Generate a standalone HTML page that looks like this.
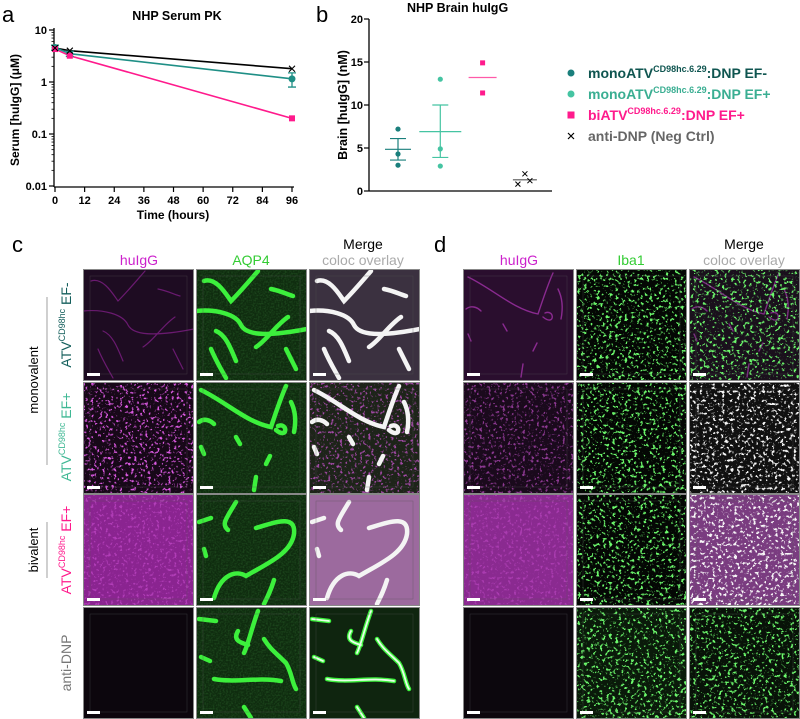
<!DOCTYPE html>
<html><head><meta charset="utf-8">
<style>
html,body{margin:0;padding:0;background:#fff;}
svg{display:block;font-family:"Liberation Sans",Arial,sans-serif;}
.b{font-weight:bold;}
</style></head>
<body>
<svg id="fig" width="800" height="719" viewBox="0 0 800 719" xmlns="http://www.w3.org/2000/svg">
<defs>
 <filter id="speckM" x="0" y="0" width="100%" height="100%">
  <feTurbulence type="fractalNoise" baseFrequency="0.35" numOctaves="2" seed="4"/>
  <feColorMatrix type="matrix" values="0 0 0 0 0.7  0 0 0 0 0.1  0 0 0 0 0.75  7 0 0 0 -4.0"/>
 </filter>
 <filter id="speckG" x="0" y="0" width="100%" height="100%">
  <feTurbulence type="fractalNoise" baseFrequency="0.32" numOctaves="3" seed="7"/>
  <feColorMatrix type="matrix" values="0 0 0 0 0.15  0 0 0 0 0.95  0 0 0 0 0.15  9 0 0 0 -5.2"/>
 </filter>
 <filter id="speckW" x="0" y="0" width="100%" height="100%">
  <feTurbulence type="fractalNoise" baseFrequency="0.32" numOctaves="3" seed="11"/>
  <feColorMatrix type="matrix" values="0 0 0 0 0.95  0 0 0 0 0.95  0 0 0 0 0.95  9 0 0 0 -5.2"/>
 </filter>
 <filter id="fineG" x="0" y="0" width="100%" height="100%">
  <feTurbulence type="fractalNoise" baseFrequency="0.6" numOctaves="1" seed="2"/>
  <feColorMatrix type="matrix" values="0 0 0 0 0.1  0 0 0 0 0.5  0 0 0 0 0.1  2 0 0 0 -0.8"/>
 </filter>
</defs>

<text x="2" y="22" font-size="22">a</text>
<text x="316" y="22" font-size="22">b</text>
<text x="12" y="252" font-size="22">c</text>
<text x="434" y="252" font-size="22">d</text>

<g id="panelA">
 <text x="177" y="20" font-size="12.5" class="b" text-anchor="middle">NHP Serum PK</text>
 <text transform="translate(19,110) rotate(-90)" font-size="12" class="b" text-anchor="middle">Serum [huIgG] (μM)</text>
 <text x="173" y="219" font-size="12" class="b" text-anchor="middle">Time (hours)</text>
 <g id="aAxes"></g><g id="aMarks"></g>
</g>

<g id="panelB">
 <text x="407" y="12" font-size="12.5" class="b">NHP Brain huIgG</text>
 <text transform="translate(347,105) rotate(-90)" font-size="12.5" class="b" text-anchor="middle">Brain [huIgG] (nM)</text>
 <g id="bAxes"></g><g id="bMarks"></g>
</g>

<g font-size="14" class="b">
 <g>
  <circle cx="571" cy="73" r="3.5" fill="#1a7f7c"/>
  <text x="588" y="78" fill="#0f5550">monoATV<tspan font-size="9" dy="-6">CD98hc.6.29</tspan><tspan dy="6">:DNP EF-</tspan></text>
 </g>
 <g>
  <circle cx="571" cy="94" r="3.5" fill="#45c4a2"/>
  <text x="588" y="99" fill="#3aae92">monoATV<tspan font-size="9" dy="-6">CD98hc.6.29</tspan><tspan dy="6">:DNP EF+</tspan></text>
 </g>
 <g>
  <rect x="567.5" y="111.5" width="7" height="7" fill="#ff1a8c"/>
  <text x="588" y="120" fill="#ff1a8c">biATV<tspan font-size="9" dy="-6">CD98hc.6.29</tspan><tspan dy="6">:DNP EF+</tspan></text>
 </g>
 <g>
  <path d="M568,133 l6,6 M574,133 l-6,6" stroke="#000" stroke-width="1.2"/>
  <text x="588" y="141" fill="#666">anti-DNP (Neg Ctrl)</text>
 </g>
</g>

<g font-size="14" text-anchor="middle">
 <text x="139" y="265" fill="#cc22cc">huIgG</text>
 <text x="251" y="265" fill="#33cc33">AQP4</text>
 <text x="363" y="249" fill="#000">Merge</text>
 <text x="363" y="265" fill="#aaa">coloc overlay</text>
 <text x="519" y="265" fill="#cc22cc">huIgG</text>
 <text x="631" y="265" fill="#33cc33">Iba1</text>
 <text x="744" y="249" fill="#000">Merge</text>
 <text x="744" y="265" fill="#aaa">coloc overlay</text>
</g>

<g font-size="14" text-anchor="middle">
 <text transform="translate(71,325) rotate(-90)" fill="#145f5c">ATV<tspan font-size="9" dy="-6">CD98hc</tspan><tspan dy="6"> EF-</tspan></text>
 <text transform="translate(71,437) rotate(-90)" fill="#3fb894">ATV<tspan font-size="9" dy="-6">CD98hc</tspan><tspan dy="6"> EF+</tspan></text>
 <text transform="translate(71,550) rotate(-90)" fill="#ff1a8c">ATV<tspan font-size="9" dy="-6">CD98hc</tspan><tspan dy="6"> EF+</tspan></text>
 <text transform="translate(71,663) rotate(-90)" fill="#777">anti-DNP</text>
 <text transform="translate(38,380) rotate(-90)" font-size="13" fill="#000">monovalent</text>
 <line x1="47" y1="297" x2="47" y2="465" stroke="#888" stroke-width="0.8"/>
 <text transform="translate(38,550) rotate(-90)" font-size="13" fill="#000">bivalent</text>
 <line x1="47" y1="522" x2="47" y2="578" stroke="#888" stroke-width="0.8"/>
</g>

<g id="tiles"></g>
</svg>

<script>
// ---------- Panel a data ----------
const aTimes = [0, 6, 96];
const aMonoMinus = [4.6, 3.5, 1.15];
const aMonoMinusErr = [0.5, 0.4, 0.35];
const aBiPlus = [4.3, 3.2, 0.2];
const aAntiDNP = [4.5, 4.0, 1.8];
const aXTicks = [0, 12, 24, 36, 48, 60, 72, 84, 96];
const aYTicks = [0.01, 0.1, 1, 10];
const aYTickLabels = ["0.01", "0.1", "1", "10"];

// ---------- Panel b data ----------
const bGroups = ["monoEFminus", "monoEFplus", "biEFplus", "antiDNP"];
const bPoints = [[7.2, 4.3, 3.0], [13.0, 4.9, 2.9], [14.9, 11.4], [2.0, 0.8, 1.2]];
const bMeans = [4.85, 6.9, 13.2, 1.3];
const bSemLow = [3.6, 3.9, null, null];
const bSemHigh = [6.1, 10.0, null, null];
const bYTicks = [0, 5, 10, 15, 20];

const NS = "http://www.w3.org/2000/svg";
function mk(parent, tag, attrs) {
  const e = document.createElementNS(NS, tag);
  for (const k in attrs) e.setAttribute(k, attrs[k]);
  parent.appendChild(e);
  return e;
}

const ax = t => 55 + t * (292 - 55) / 96;
const ay = v => 82 - 52 * Math.log10(v);
const aAxes = document.getElementById("aAxes");
const aMarks = document.getElementById("aMarks");
let l = mk(aAxes, "line", {x1: 54, y1: 28, x2: 54, y2: 187, stroke: "#000", "stroke-width": 1.3});


l = mk(aAxes, "line", {x1: 54, y1: 187, x2: 294, y2: 187, stroke: "#000", "stroke-width": 1.3});


aYTicks.forEach((v, i) => {
  mk(aAxes, "line", {x1: 49, y1: ay(v), x2: 54, y2: ay(v), stroke: "#000", "stroke-width": 1.2});
  const t = mk(aAxes, "text", {x: 47, y: ay(v) + 4, "font-size": 11, "font-weight": "bold", "text-anchor": "end"});
  t.textContent = aYTickLabels[i];
  
  
  if (i < aYTicks.length - 1) {
    for (let m = 2; m < 10; m++) {
      const yy = ay(v * m);
      mk(aAxes, "line", {x1: 51.5, y1: yy, x2: 54, y2: yy, stroke: "#000", "stroke-width": 0.8});
    }
  }
});
aXTicks.forEach(t => {
  mk(aAxes, "line", {x1: ax(t), y1: 187, x2: ax(t), y2: 192, stroke: "#000", "stroke-width": 1.2});
  const tx = mk(aAxes, "text", {x: ax(t), y: 204, "font-size": 11, "font-weight": "bold", "text-anchor": "middle"});
  tx.textContent = t;
  
  
});
function line(series, color, name) {
  const p = mk(aMarks, "polyline", {points: aTimes.map((t, i) => ax(t) + "," + ay(series[i])).join(" "), fill: "none", stroke: color, "stroke-width": 1.6});
  
  
}
line(aAntiDNP, "#000", "line-anti-dnp");
line(aBiPlus, "#ff1a8c", "line-bi-ef-plus");
line(aMonoMinus, "#1f8f86", "line-mono-ef-minus");
aTimes.forEach((t, i) => {
  const x = ax(t);
  const e = mk(aMarks, "path", {d: `M${x},${ay(aMonoMinus[i] + aMonoMinusErr[i])} V${ay(aMonoMinus[i] - aMonoMinusErr[i])} M${x - 4},${ay(aMonoMinus[i] + aMonoMinusErr[i])} h8 M${x - 4},${ay(aMonoMinus[i] - aMonoMinusErr[i])} h8`, stroke: "#1f8f86", "stroke-width": 1.3, fill: "none"});
  
  
  const c = mk(aMarks, "circle", {cx: x, cy: ay(aMonoMinus[i]), r: 3.5, fill: "#1f8f86"});
  
  
  const s = mk(aMarks, "rect", {x: x - 3, y: ay(aBiPlus[i]) - 3, width: 6, height: 6, fill: "#ff1a8c"});
  
  
  const xm = mk(aMarks, "path", {d: `M${x - 3},${ay(aAntiDNP[i]) - 3} l6,6 M${x + 3},${ay(aAntiDNP[i]) - 3} l-6,6`, stroke: "#000", "stroke-width": 1.1});
  
  
});

const by = v => 191 - v * 8.6;
const bx = i => 398 + i * 42.3;
const bHalf = [13, 21, 14, 12];
const bColors = ["#1a7f7c", "#45c4a2", "#ff1a8c", "#000"];
const bLineColors = ["#1a7f7c", "#45c4a2", "#ff5aa8", "#555"];
const bAxes = document.getElementById("bAxes");
const bMarks = document.getElementById("bMarks");
l = mk(bAxes, "line", {x1: 369, y1: 19, x2: 369, y2: 191, stroke: "#000", "stroke-width": 1.3});


l = mk(bAxes, "line", {x1: 369, y1: 191, x2: 552, y2: 191, stroke: "#000", "stroke-width": 1.3});


bYTicks.forEach(v => {
  mk(bAxes, "line", {x1: 364, y1: by(v), x2: 369, y2: by(v), stroke: "#000", "stroke-width": 1.2});
  const t = mk(bAxes, "text", {x: 363, y: by(v) + 4, "font-size": 11, "font-weight": "bold", "text-anchor": "end"});
  t.textContent = v;
  
  
});
bGroups.forEach((g, i) => {
  const x = bx(i), col = bColors[i], lc = bLineColors[i];
  const m = mk(bMarks, "line", {x1: x - bHalf[i], y1: by(bMeans[i]), x2: x + bHalf[i], y2: by(bMeans[i]), stroke: lc, "stroke-width": 1.2});
  
  
  if (bSemLow[i] !== null) {
    const e = mk(bMarks, "path", {d: `M${x},${by(bSemHigh[i])} V${by(bSemLow[i])} M${x - 8},${by(bSemHigh[i])} h16 M${x - 8},${by(bSemLow[i])} h16`, stroke: lc, "stroke-width": 1.2, fill: "none"});
    
    
  }
  bPoints[i].forEach((v, j) => {
    let p;
    if (i === 3) {
      const dx = [0, -7, 5][j];
      p = mk(bMarks, "path", {d: `M${x + dx - 2.5},${by(v) - 2.5} l5,5 M${x + dx + 2.5},${by(v) - 2.5} l-5,5`, stroke: "#000", "stroke-width": 1});
    } else if (i === 2) {
      p = mk(bMarks, "rect", {x: x - 2.5, y: by(v) - 2.5, width: 5, height: 5, fill: col});
    } else {
      p = mk(bMarks, "circle", {cx: x, cy: by(v), r: 2.6, fill: col});
    }
    
    
  });
});

// ---------- micrograph tiles ----------
const tiles = document.getElementById("tiles");
const cCols = [83, 196, 309];
const dCols = [463, 576, 689];
const rows = [269, 382, 494, 607];
const TW = 111, TH = 112;
const vessels = [
 ["M8,12 C20,8 30,25 35,32 C45,22 55,10 62,2","M0,42 C20,40 40,45 45,56 C50,66 70,68 111,60","M20,62 C30,66 35,80 40,92","M75,20 C85,22 90,25 97,27","M60,78 C70,72 80,56 92,48","M15,80 C20,92 25,100 30,109","M90,80 L100,100"],
 ["M5,8 C30,20 50,40 75,45 C80,30 85,15 90,4","M80,48 C92,58 92,40 82,44","M3,40 C8,36 14,38 18,42","M40,55 L44,62","M5,65 L8,72","M70,82 L74,74","M60,95 L58,108","M95,20 C100,30 100,40 98,50"],
 ["M40,8 C30,25 25,30 32,36","M3,28 L15,24","M60,34 C80,28 100,20 98,40 C95,60 70,70 50,82 C40,76 25,80 18,104","M78,86 C75,96 72,102 68,110","M8,55 L10,62"],
 ["M62,4 C56,20 52,38 48,46","M3,12 L20,14","M68,32 C74,42 80,46 90,56 C96,66 96,76 100,82","M42,24 C36,34 46,36 52,38","M18,72 C40,76 60,70 85,74","M48,100 L55,111","M5,50 L14,54"]
];
const cHuBg = ["#1e0c22", "#170818", "#8a2490", "#0c060d"];
const cMgBg = ["#3b3140", "#1d2419", "#9c6a9e", "#0f250f"];
const dHuBg = ["#2a0e2e", "#1a0a1c", "#8a2a90", "#0c070d"];
const dMgBg = ["#1a101c", "#101010", "#7a3c80", "#081208"];

function tile(x, y, name) {
  const g = mk(tiles, "g", {});
  
  
  const cp = mk(g, "clipPath", {id: "cp" + x + "_" + y});
  mk(cp, "rect", {x: x, y: y, width: TW, height: TH});
  return mk(g, "g", {"clip-path": `url(#cp${x}_${y})`});
}
function frame(x, y) {
  mk(tiles, "rect", {x: x + 0.5, y: y + 0.5, width: TW - 1, height: TH - 1, fill: "none", stroke: "#888", "stroke-width": 1});
  mk(tiles, "rect", {x: x + 7, y: y + 7, width: TW - 14, height: TH - 14, fill: "none", stroke: "#555", "stroke-width": 0.5, opacity: 0.6});
  mk(tiles, "rect", {x: x + 4, y: y + TH - 8, width: 13, height: 3, fill: "#fff"});
}
function vesselPaths(g, x, y, r, color, w) {
  vessels[r].forEach(d => mk(g, "path", {d: d, transform: `translate(${x},${y})`, fill: "none", stroke: color, "stroke-width": w, "stroke-linecap": "round"}));
}
rows.forEach((y, r) => {
  let g = tile(cCols[0], y, "c-huigg-tile-row" + (r + 1));
  mk(g, "rect", {x: cCols[0], y: y, width: TW, height: TH, fill: cHuBg[r]});
  if (r === 1) mk(g, "rect", {x: cCols[0], y: y, width: TW, height: TH, filter: "url(#speckM)"});
  if (r === 0) vesselPaths(g, cCols[0], y, 0, "#6a1a70", 1.2);
  if (r === 2) mk(g, "rect", {x: cCols[0], y: y, width: TW, height: TH, filter: "url(#speckM)", opacity: 0.5});
  frame(cCols[0], y);
  g = tile(cCols[1], y, "c-aqp4-tile-row" + (r + 1));
  mk(g, "rect", {x: cCols[1], y: y, width: TW, height: TH, fill: "#0f2c0f"});
  mk(g, "rect", {x: cCols[1], y: y, width: TW, height: TH, filter: "url(#fineG)", opacity: 0.25});
  vesselPaths(g, cCols[1], y, r, "#3cf03c", 4.5);
  frame(cCols[1], y);
  g = tile(cCols[2], y, "c-merge-tile-row" + (r + 1));
  mk(g, "rect", {x: cCols[2], y: y, width: TW, height: TH, fill: cMgBg[r]});
  if (r === 1) mk(g, "rect", {x: cCols[2], y: y, width: TW, height: TH, filter: "url(#speckM)", opacity: 0.7});
  vesselPaths(g, cCols[2], y, r, r === 3 ? "#3cf03c" : "#f4f4f4", 4.5);
  if (r === 3) vesselPaths(g, cCols[2], y, r, "#e8ffe8", 1.8);
  frame(cCols[2], y);
  g = tile(dCols[0], y, "d-huigg-tile-row" + (r + 1));
  mk(g, "rect", {x: dCols[0], y: y, width: TW, height: TH, fill: dHuBg[r]});
  if (r === 0) vesselPaths(g, dCols[0], y, 1, "#8a2a90", 1.4);
  if (r === 1) mk(g, "rect", {x: dCols[0], y: y, width: TW, height: TH, filter: "url(#speckM)", opacity: 0.6});
  if (r === 2) mk(g, "rect", {x: dCols[0], y: y, width: TW, height: TH, filter: "url(#speckM)", opacity: 0.4});
  frame(dCols[0], y);
  g = tile(dCols[1], y, "d-iba1-tile-row" + (r + 1));
  mk(g, "rect", {x: dCols[1], y: y, width: TW, height: TH, fill: r === 3 ? "#0a1a0a" : "#040704"});
  mk(g, "rect", {x: dCols[1], y: y, width: TW, height: TH, filter: "url(#speckG)"});
  frame(dCols[1], y);
  g = tile(dCols[2], y, "d-merge-tile-row" + (r + 1));
  mk(g, "rect", {x: dCols[2], y: y, width: TW, height: TH, fill: dMgBg[r]});
  if (r === 0) vesselPaths(g, dCols[2], y, 1, "#7a2a80", 1.4);
  mk(g, "rect", {x: dCols[2], y: y, width: TW, height: TH, filter: (r === 1 || r === 2) ? "url(#speckW)" : "url(#speckG)"});
  frame(dCols[2], y);
});
</script>
</body></html>
